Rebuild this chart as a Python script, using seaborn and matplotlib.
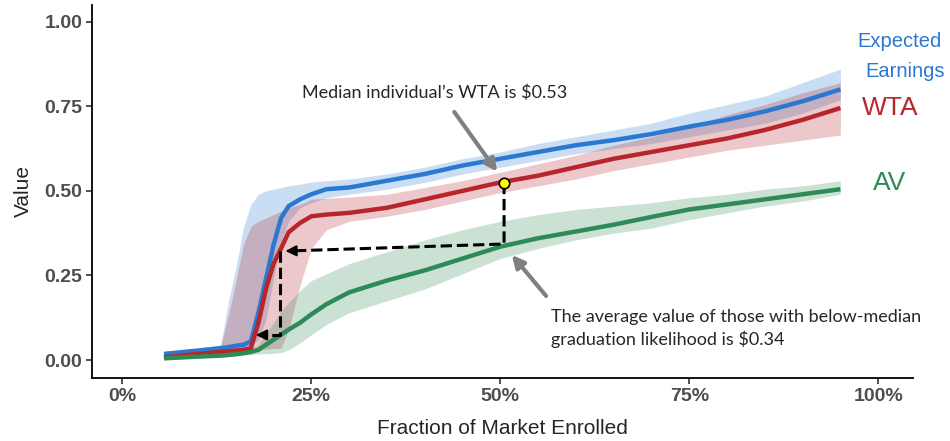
import matplotlib
matplotlib.use('Agg')
import matplotlib.pyplot as plt
import seaborn as sns

sns.set_style('white')
plt.rcParams['font.family'] = ['Liberation Sans', 'DejaVu Sans']

# fraction of market enrolled (shared x grid)
frac = [0.055, 0.10, 0.13, 0.14, 0.15, 0.16, 0.17, 0.18, 0.19, 0.20, 0.21, 0.22, 0.235,
        0.25, 0.27, 0.30, 0.35, 0.40, 0.45, 0.50, 0.55, 0.60, 0.65, 0.70, 0.75, 0.80,
        0.85, 0.90, 0.95]

# Expected Earnings
earn = [0.018, 0.028, 0.035, 0.038, 0.042, 0.045, 0.055, 0.14, 0.24, 0.34, 0.42, 0.455, 0.475,
        0.49, 0.505, 0.51, 0.53, 0.55, 0.575, 0.595, 0.615, 0.635, 0.65, 0.668, 0.69, 0.71,
        0.735, 0.765, 0.80]
earn_lo = [0.012, 0.02, 0.027, 0.03, 0.032, 0.035, 0.04, 0.06, 0.12, 0.24, 0.35, 0.41, 0.45,
           0.465, 0.48, 0.49, 0.505, 0.525, 0.55, 0.57, 0.59, 0.61, 0.625, 0.64, 0.66, 0.68,
           0.70, 0.73, 0.77]
earn_hi = [0.025, 0.035, 0.045, 0.17, 0.27, 0.39, 0.46, 0.49, 0.50, 0.505, 0.51, 0.515, 0.52,
           0.526, 0.53, 0.535, 0.55, 0.57, 0.595, 0.615, 0.64, 0.66, 0.68, 0.70, 0.73, 0.755,
           0.78, 0.82, 0.86]

# WTA
wta = [0.008, 0.018, 0.024, 0.026, 0.028, 0.03, 0.035, 0.11, 0.21, 0.285, 0.33, 0.378, 0.405,
       0.425, 0.43, 0.435, 0.45, 0.475, 0.50, 0.525, 0.545, 0.57, 0.595, 0.615, 0.635, 0.655,
       0.68, 0.71, 0.745]
wta_lo = [0.004, 0.012, 0.018, 0.02, 0.022, 0.025, 0.028, 0.03, 0.032, 0.034, 0.035, 0.09, 0.22,
          0.33, 0.385, 0.41, 0.425, 0.445, 0.47, 0.495, 0.515, 0.535, 0.56, 0.58, 0.60, 0.62,
          0.635, 0.65, 0.665]
wta_hi = [0.012, 0.022, 0.04, 0.13, 0.23, 0.34, 0.395, 0.41, 0.42, 0.43, 0.44, 0.45, 0.46,
          0.475, 0.478, 0.482, 0.49, 0.51, 0.53, 0.555, 0.58, 0.605, 0.635, 0.66, 0.69, 0.725,
          0.755, 0.79, 0.82]

# AV
av = [0.005, 0.01, 0.013, 0.015, 0.017, 0.02, 0.024, 0.03, 0.045, 0.06, 0.075, 0.09, 0.11,
      0.135, 0.165, 0.20, 0.235, 0.265, 0.30, 0.335, 0.36, 0.38, 0.40, 0.423, 0.445, 0.46,
      0.475, 0.49, 0.505]
av_lo = [0.002, 0.006, 0.009, 0.01, 0.012, 0.014, 0.016, 0.018, 0.019, 0.02, 0.022, 0.03, 0.05,
         0.075, 0.105, 0.14, 0.175, 0.21, 0.255, 0.30, 0.33, 0.355, 0.375, 0.39, 0.415, 0.435,
         0.455, 0.47, 0.49]
av_hi = [0.008, 0.013, 0.017, 0.02, 0.025, 0.03, 0.035, 0.045, 0.08, 0.11, 0.145, 0.17, 0.205,
         0.235, 0.255, 0.285, 0.32, 0.355, 0.385, 0.41, 0.43, 0.445, 0.455, 0.465, 0.48, 0.49,
         0.505, 0.515, 0.53]

colors = {'Expected Earnings': '#2b78d0', 'WTA': '#b8262c', 'AV': '#2e8b57'}
series = [('Expected Earnings', earn, earn_lo, earn_hi),
          ('WTA', wta, wta_lo, wta_hi),
          ('AV', av, av_lo, av_hi)]

fig = plt.figure(figsize=(9.5, 4.41), dpi=100)
ax = fig.add_axes([0.097, 0.143, 0.864, 0.846])

for name, mid, lo, hi in series:
    c = colors[name]
    ax.fill_between(frac, lo, hi, color=c, alpha=0.25, lw=0)
    sns.lineplot(x=frac, y=mid, ax=ax, color=c, lw=3.2, solid_capstyle='butt')

# dashed guide arrows
med_x, med_y = 0.505, 0.524
av_y = 0.343
ax.plot([med_x, med_x, 0.222], [med_y, av_y, 0.3225], ls='--', color='black', lw=2.2)
ax.annotate('', xy=(0.212, 0.322), xytext=(0.232, 0.323),
            arrowprops=dict(arrowstyle='-|>', color='black', lw=1.5, mutation_scale=16))
ax.plot([0.209, 0.209, 0.185], [0.322, 0.074, 0.074], ls='--', color='black', lw=2.2)
ax.annotate('', xy=(0.173, 0.074), xytext=(0.19, 0.074),
            arrowprops=dict(arrowstyle='-|>', color='black', lw=1.5, mutation_scale=16))
ax.plot([med_x], [med_y], marker='o', ms=7.5, mfc='#ffff00', mec='black', mew=1.2)

# grey annotation arrows and texts
ax.annotate('', xy=(0.498, 0.55), xytext=(0.437, 0.74),
            arrowprops=dict(arrowstyle='-|>', color='#808080', lw=3, mutation_scale=18))
ax.annotate('', xy=(0.513, 0.317), xytext=(0.563, 0.183),
            arrowprops=dict(arrowstyle='-|>', color='#808080', lw=3, mutation_scale=18))
ax.text(0.413, 0.79, 'Median individual\u2019s WTA is $0.53', ha='center', va='center',
        fontsize=13, family=['Lato', 'DejaVu Sans'])
ax.text(0.567, 0.15, 'The average value of those with below-median\ngraduation likelihood is $0.34',
        ha='left', va='top', fontsize=13, family=['Lato', 'DejaVu Sans'], linespacing=1.35)

# series labels on the right
fig.text(0.947, 0.906, 'Expected', ha='center', va='center', fontsize=14.5,
         color=colors['Expected Earnings'])
fig.text(0.953, 0.839, 'Earnings', ha='center', va='center', fontsize=14.5,
         color=colors['Expected Earnings'])
fig.text(0.937, 0.755, 'WTA', ha='center', va='center', fontsize=19, color=colors['WTA'])
fig.text(0.936, 0.585, 'AV', ha='center', va='center', fontsize=19, color=colors['AV'])

ax.set_xlim(-0.04, 1.046)
ax.set_ylim(-0.053, 1.05)
ax.set_xticks([0, 0.25, 0.5, 0.75, 1.0])
ax.set_xticklabels(['0%', '25%', '50%', '75%', '100%'])
ax.set_yticks([0, 0.25, 0.5, 0.75, 1.0])
ax.set_yticklabels(['0.00', '0.25', '0.50', '0.75', '1.00'])
ax.tick_params(axis='both', which='both', length=4, width=1.2, color='#333333',
               labelsize=14, labelcolor='#4d4d4d', pad=3, left=True, bottom=True)
for lab in ax.get_xticklabels() + ax.get_yticklabels():
    lab.set_fontweight('bold')
ax.set_xlabel('Fraction of Market Enrolled', fontsize=15, labelpad=10)
ax.set_ylabel('Value', fontsize=15, labelpad=8)
sns.despine(ax=ax)
for s in ['left', 'bottom']:
    ax.spines[s].set_linewidth(1.3)
    ax.spines[s].set_color('black')

fig.savefig('out.png', dpi=100)
